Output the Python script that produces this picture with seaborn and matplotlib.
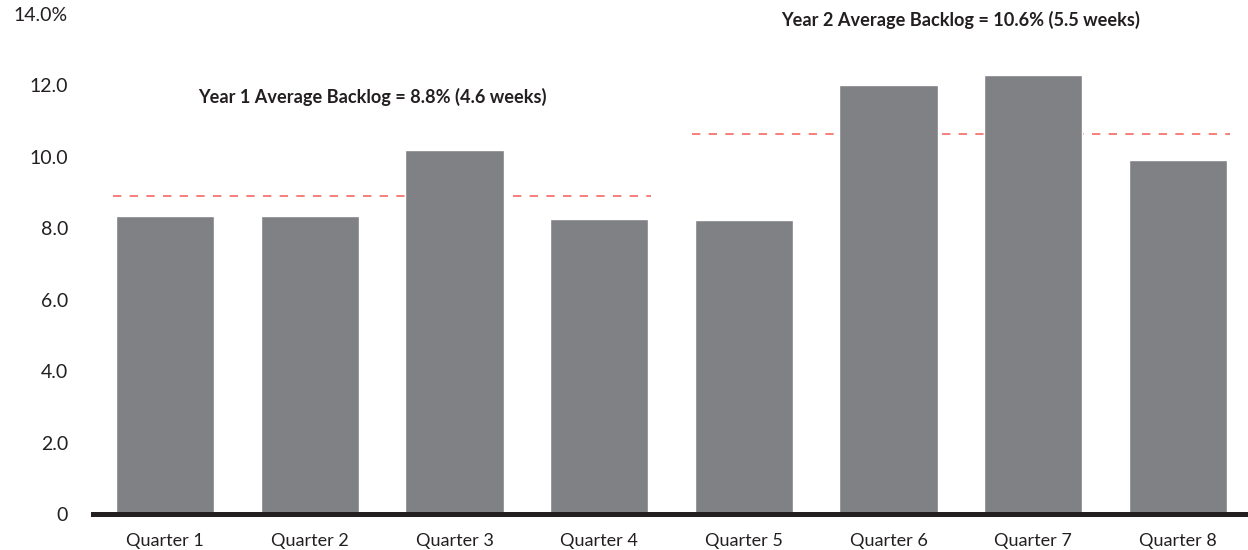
import matplotlib
matplotlib.use("Agg")
import matplotlib.pyplot as plt
import seaborn as sns
import pandas as pd

quarters = ["Quarter 1", "Quarter 2", "Quarter 3", "Quarter 4",
            "Quarter 5", "Quarter 6", "Quarter 7", "Quarter 8"]
backlog = [8.35, 8.35, 10.2, 8.26, 8.23, 12.0, 12.3, 9.9]
year_avg_lines = [8.9, 10.65]
year_labels = ["Year 1 Average Backlog = 8.8% (4.6 weeks)",
               "Year 2 Average Backlog = 10.6% (5.5 weeks)"]
yticks = [0, 2, 4, 6, 8, 10, 12, 14]
ytick_labels = ["0", "2.0", "4.0", "6.0", "8.0", "10.0", "12.0", "14.0%"]

sns.set_style("white")
plt.rcParams["font.family"] = ["Lato", "DejaVu Sans"]

df = pd.DataFrame({"quarter": quarters, "backlog": backlog})

fig = plt.figure(figsize=(12.48, 5.5), dpi=100)
ax = fig.add_axes([93 / 1248, 36 / 550, (1250 - 93) / 1248, 500 / 550])

sns.barplot(data=df, x="quarter", y="backlog", color="#808184",
            saturation=1, width=0.68, ax=ax)

# average lines
ax.hlines(year_avg_lines[0], -0.36, 3.36, colors="#f26b63",
          linestyles=(0, (5, 5)), linewidth=1.2, zorder=1)
ax.hlines(year_avg_lines[1], 3.64, 7.36, colors="#f26b63",
          linestyles=(0, (5, 5)), linewidth=1.2, zorder=1)
for b in ax.patches:
    b.set_zorder(2)

ax.text(1.43, 11.68, year_labels[0], ha="center", va="center",
        fontsize=13.1, fontweight="bold", color="#231f20")
ax.text(5.5, 13.83, year_labels[1], ha="center", va="center",
        fontsize=13.1, fontweight="bold", color="#231f20")

ax.set_xlim(-0.5, 7.5)
ax.set_ylim(0, 14)
ax.set_yticks(yticks)
ax.set_yticklabels(ytick_labels)
ax.set_xlabel("")
ax.set_ylabel("")
for s in ["top", "right", "left"]:
    ax.spines[s].set_visible(False)
ax.spines["bottom"].set_linewidth(3.6)
ax.spines["bottom"].set_color("#231f20")
ax.spines["bottom"].set_zorder(5)
ax.tick_params(axis="x", length=0, pad=14, labelsize=13, colors="#231f20")
ax.tick_params(axis="y", length=0, pad=18, labelsize=14, colors="#231f20")

fig.savefig("out.png", dpi=100)
